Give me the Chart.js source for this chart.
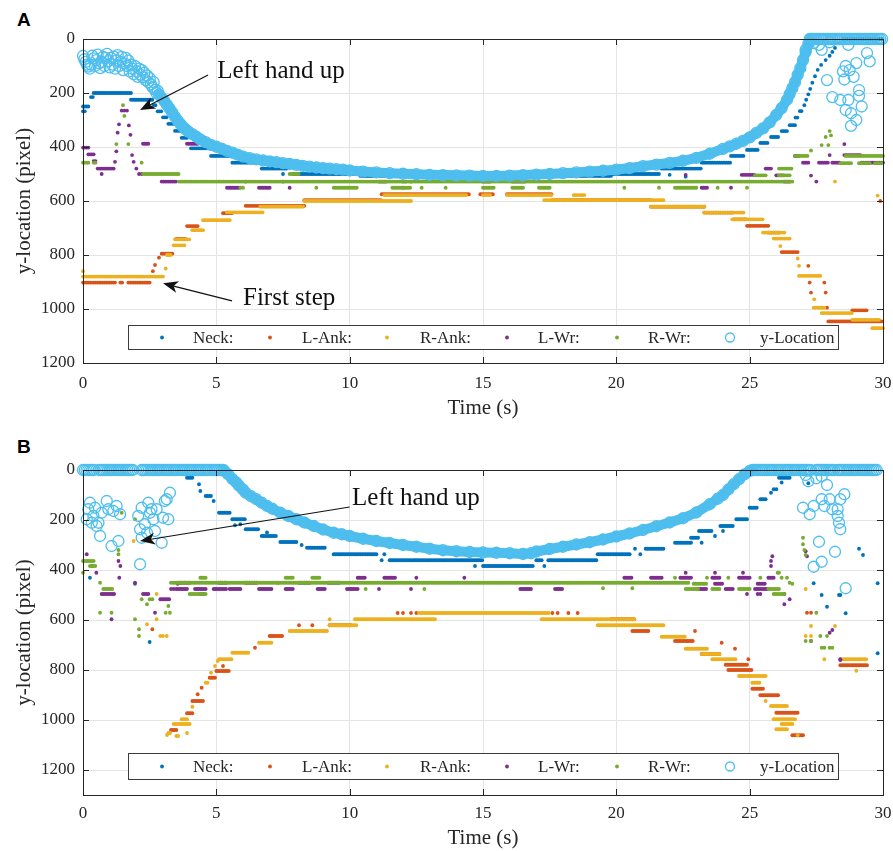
<!DOCTYPE html>
<html lang="en">
<head>
<meta charset="UTF-8">
<title>y-location vs time</title>
<script src="https://cdn.jsdelivr.net/npm/chart.js@4/dist/chart.umd.min.js"></script>
<style>
*{margin:0;padding:0;box-sizing:border-box}
body{width:893px;height:851px;background:#fff;position:relative;overflow:hidden}
.pn{position:absolute;left:0;width:910px}
.tag{position:absolute;left:17px;font:bold 19px "Liberation Sans",Arial,sans-serif;color:#000}
</style>
</head>
<body>
<div class="tag" style="top:9px">A</div>
<div class="pn" style="top:0;height:425px"><canvas id="cA"></canvas></div>
<div class="tag" style="top:436px">B</div>
<div class="pn" style="top:425px;height:426px"><canvas id="cB"></canvas></div>
<script>
// ---- data ---------------------------------------------------------------
// runs: [t0 (s), t1 (s), y (pixel)] flat stretches of a keypoint track
// pts:  [t (s), y (pixel)] single detections
const xTicks = [0, 5, 10, 15, 20, 25, 30];
const yTicks = [0, 200, 400, 600, 800, 1000, 1200];
const seriesNames = ["Neck:", "L-Ank:", "R-Ank:", "L-Wr:", "R-Wr:", "y-Location"];

// ---------- panel A ----------
const neckA_runs = [[0,0.2,250],[0,0.1,268],[0.3,0.4,215],[0.4,1.8,200],[1.8,2.6,225],[2.65,2.75,245],[2.8,2.95,268],[3.0,3.15,290],[3.2,3.4,314],[3.45,3.65,340],[3.7,3.95,366],[4.05,4.8,405],[4.8,5.8,433],[5.6,6.6,458],[6.7,7.65,480],[7.9,10.4,500],[10.4,15.0,507],[15.0,15.4,525],[15.9,16.6,525],[15.4,19.8,507],[19.8,21.6,500],[21.7,23.2,480],[23.2,24.3,458],[24.3,24.8,433],[24.9,25.35,411],[25.4,25.7,385],[25.8,26.1,363],[26.2,26.4,341],[26.5,26.7,319],[26.72,26.85,291],[26.88,27.0,267],[28.5,30,0]];
const neckA_pts = [[7.5,500],[27.05,245],[27.12,225],[27.2,205],[27.27,185],[27.35,162],[27.45,138],[27.55,114],[27.68,96],[27.85,78],[28.0,62],[28.1,48],[28.2,33],[28.35,16],[12.1,528],[12.3,528],[22.0,503],[22.6,510]];
const lAnkA_runs = [[0,1.2,902],[1.4,1.5,902],[1.7,2.5,902],[2.95,3.4,795],[3.5,3.85,740],[3.9,4.3,693],[5.25,5.6,645],[6.1,8.3,618],[8.3,11.2,597],[11.2,14.5,575],[14.9,15.4,575],[15.9,17.6,575],[17.6,21.3,597],[21.3,23.3,621],[23.3,24.4,643],[24.4,24.9,668],[24.9,25.7,692],[25.7,26.1,717],[26.2,26.85,789],[27.95,30,1046],[28.85,29.4,1005]];
const lAnkA_pts = [[2.62,860],[2.7,837],[2.85,810],[27.2,840],[27.25,902],[27.3,939],[27.8,902],[27.85,939],[27.9,995],[29.9,600],[18.7,597]];
const rAnkA_runs = [[0,3.05,880],[3.15,3.3,800],[3.4,3.8,764],[3.45,4.0,742],[4.1,4.5,708],[4.5,5.5,671],[5.4,6.75,642],[6.65,8.3,621],[8.3,12.3,600],[11.3,14.4,578],[15.0,15.3,578],[15.9,17.6,578],[18.4,18.8,578],[17.3,21.8,597],[21.3,23.3,621],[23.3,24.8,643],[24.35,25.5,668],[25.5,26.3,717],[25.9,26.5,739],[26.85,27.7,877],[27.4,27.8,995],[27.7,28.85,1015],[28.85,29.85,1040],[29.6,30,1071]];
const rAnkA_pts = [[0,860],[3.1,850],[3.2,800],[26.15,767],[26.8,813],[26.85,840],[27.42,964],[29.8,580],[28.2,528]];
const lWrA_runs = [[0,0.25,402],[0.2,0.4,427],[0.4,0.5,452],[0.55,1.2,480],[2.25,2.5,388],[2.95,3.5,528],[3.9,4.3,388],[5.4,5.9,551],[6.6,7.0,551],[11.1,11.4,528],[15.0,15.3,528],[16.1,16.6,528],[23.2,23.4,551],[24.7,25.2,503],[25.6,25.8,480],[26.0,26.3,505],[26.3,26.5,528],[26.7,26.85,433],[27.0,27.2,458],[27.6,27.95,458],[28.1,28.4,458],[28.55,29.2,430],[29.2,30,458]];
const lWrA_pts = [[0.7,500],[1.2,455],[1.25,416],[1.3,347],[1.35,316],[1.45,265],[1.55,265],[1.65,265],[1.72,320],[1.78,355],[1.84,430],[1.9,455],[2.0,480],[2.1,500],[2.2,500],[6.1,528],[7.5,528],[7.75,551],[12.0,528],[12.0,551],[22.6,503],[24.3,551],[27.3,506],[27.5,528],[28.0,430],[28.55,389]];
const rWrA_runs = [[0,0.25,458],[0.4,0.5,458],[2.25,3.6,500],[3.6,26.6,528],[7.75,8.1,500],[9.4,10.3,551],[11.6,12.3,551],[15.0,15.4,551],[16.1,16.5,551],[17.1,17.5,551],[22.2,23.0,551],[25.2,25.6,505],[26.1,26.5,505],[26.1,26.6,480],[26.7,27.2,433],[28.6,30,433],[28.4,28.8,460],[29.1,29.5,460],[29.7,30,460]];
const rWrA_pts = [[1.25,389],[1.5,245],[1.55,285],[1.7,389],[2.2,458],[5.9,551],[6.0,551],[8.75,551],[12.7,551],[13.6,551],[20.3,551],[21.6,551],[23.8,551],[24.9,551],[27.3,413],[27.7,393],[27.85,363],[28.0,341],[28.05,357],[27.95,393]];
const yLocA_curve = [[2.85,205],[2.95,218],[3.05,230],[3.15,244],[3.25,258],[3.35,273],[3.45,288],[3.55,302],[3.65,314],[3.75,326],[3.85,335],[3.95,343],[4.1,352],[4.25,362],[4.4,372],[4.6,382],[4.8,392],[5.0,399],[5.2,406],[5.4,414],[5.6,421],[5.8,428],[6.0,436],[6.25,441],[6.5,446],[6.75,450],[7.0,453],[7.25,456],[7.5,460],[7.75,463],[8.0,466],[8.25,470],[8.5,473],[8.75,476],[9.0,478],[9.25,480],[9.5,482],[9.75,484],[10.0,487],[10.5,491],[11.0,494],[11.5,497],[12.0,499],[12.5,501],[13.0,503],[13.5,504],[14.0,505],[14.5,506],[15.0,507],[15.5,507],[16.0,506],[16.5,504],[17.0,502],[17.5,500],[18.0,497],[18.5,494],[19.0,491],[19.5,488],[20.0,484],[20.5,478],[21.0,471],[21.5,465],[22.0,459],[22.5,451],[23.0,440],[23.5,425],[24.0,407],[24.25,398],[24.5,388],[24.75,377],[25.0,364],[25.25,348],[25.5,331],[25.75,309],[26.0,281],[26.2,256],[26.4,225],[26.5,204],[26.6,182],[26.7,160],[26.8,133],[26.9,108],[27.0,78],[27.1,48],[27.2,18],[27.25,0]];
const yLocA_runs = [[27.3,30,0]];
const yLocA_pts = [[0,63],[0.05,75],[0.1,85],[0.15,95],[0.2,102],[0.25,110],[0.3,95],[0.35,62],[0.4,72],[0.45,100],[0.5,78],[0.55,58],[0.6,90],[0.65,108],[0.7,85],[0.75,66],[0.8,100],[0.85,70],[0.9,55],[0.95,82],[1.0,105],[1.05,70],[1.1,95],[1.15,65],[1.2,110],[1.25,80],[1.3,60],[1.35,100],[1.4,85],[1.45,66],[1.5,115],[1.55,90],[1.6,70],[1.65,100],[1.7,80],[1.75,120],[1.8,95],[1.85,110],[1.9,130],[1.95,100],[2.0,120],[2.05,140],[2.1,110],[2.15,132],[2.2,115],[2.25,142],[2.3,125],[2.35,152],[2.4,135],[2.45,160],[2.5,145],[2.55,168],[2.6,178],[2.65,160],[2.7,188],[2.75,200],[2.8,192],
  [27.4,15],[27.6,22],[28.0,12],[27.1,40],[27.7,40],[27.9,152],[28.1,215],[28.4,226],[28.5,120],[28.6,100],[28.6,263],[28.7,22],[28.7,226],[28.8,275],[28.8,322],[28.9,140],[29.0,300],[29.0,89],[29.1,211],[29.1,189],[29.2,250],[29.4,52],[29.5,83],[28.55,150],[28.75,115]];

// ---------- panel B ----------
const neckB_runs = [[3.9,4.1,31],[4.6,4.8,104],[5.1,5.5,171],[5.6,6.1,197],[6.1,6.6,237],[6.7,7.25,264],[7.4,8.0,288],[8.4,9.1,311],[9.4,11.0,337],[11.5,15.0,361],[15.0,16.9,384],[17.0,17.2,361],[17.45,19.3,361],[19.3,20.5,337],[21.1,21.8,315],[22.2,22.8,291],[22.8,23.1,271],[23.1,23.6,244],[23.9,24.4,224],[24.5,24.9,197],[25.0,25.3,151],[25.4,25.6,117],[26.1,26.5,31]];
const neckB_pts = [[4.35,57],[4.4,84],[4.9,124],[5.7,221],[5.9,217],[6.9,250],[8.2,300],[11.2,361],[11.3,337],[14.7,384],[17.3,384],[20.7,315],[20.9,337],[23.2,291],[23.7,264],[24.0,244],[25.8,91],[25.9,77],[26.0,77],[26.2,50],[0.26,431],[1.95,455],[2.5,688],[27.2,53],[27.4,453],[27.7,500],[27.9,547],[28.35,500],[28.4,500],[28.6,573],[29.1,315],[29.25,340],[29.8,453],[29.8,733]];
const lAnkB_runs = [[3.3,3.5,1040],[3.9,4.1,973],[4.1,4.5,924],[4.75,5.0,831],[5.0,5.5,804],[7.0,7.5,664],[9.25,10.1,621],[19.8,20.7,597],[20.6,21.2,644],[22.2,22.9,684],[23.2,23.9,736],[24.1,24.9,779],[24.2,25.1,800],[25.1,25.5,875],[25.4,26.1,901],[26.0,26.8,971],[26.6,27.0,1061],[28.4,29.4,781]];
const lAnkB_pts = [[4.3,897],[4.45,871],[5.25,784],[6.45,711],[8.1,621],[8.6,621],[11.8,572],[12.0,572],[12.3,572],[12.5,572],[17.6,572],[17.8,572],[18.2,572],[18.55,572],[22.95,644],[23.95,691],[24.45,715],[24.95,757],[27.15,571],[27.3,571],[2.6,637]];
const rAnkB_runs = [[3.2,3.3,1052],[3.5,3.6,1064],[3.4,4.0,1016],[3.7,3.9,997],[4.6,4.7,851],[5.1,5.6,757],[5.6,6.2,731],[6.6,7.1,691],[7.75,9.2,644],[9.25,10.3,621],[10.2,13.2,597],[12.6,17.5,572],[17.2,20.7,597],[19.3,21.8,621],[21.7,22.6,667],[22.6,23.4,715],[23.2,23.9,736],[23.6,24.5,757],[24.6,25.6,824],[25.1,25.4,851],[25.8,26.4,944],[25.9,26.7,997],[26.2,26.6,1016],[26.0,26.4,1037],[28.5,29.4,757]];
const rAnkB_pts = [[3.15,1060],[3.9,1052],[4.1,947],[4.8,811],[4.95,784],[5.05,764],[9.25,597],[25.6,924],[26.8,1061],[2.4,617],[2.76,597],[2.76,496],[2.9,664],[3.0,664],[3.14,664],[1.9,284],[27.1,476],[27.3,624],[27.1,664],[27.3,664],[28.2,624],[28.4,757],[29.0,803],[27.8,757]];
const lWrB_runs = [[3.5,3.9,476],[4.2,4.6,476],[4.9,5.4,476],[5.5,5.9,476],[6.6,7.1,476],[7.6,7.9,476],[8.8,9.1,476],[3.6,4.0,451],[5.1,5.4,451],[6.1,6.5,451],[8.1,8.5,451],[9.2,9.6,451],[9.9,10.3,476],[10.3,10.6,431],[11.3,11.7,431],[16.4,16.8,476],[17.7,18.0,476],[20.3,20.6,431],[21.3,21.7,431],[22.4,22.8,431],[23.6,23.9,431],[24.6,25.0,431],[25.7,25.9,431],[23.1,23.4,476],[24.1,24.4,476],[25.2,25.7,476],[23.7,24.0,455],[25.3,25.6,455],[2.25,2.5,496],[2.9,3.26,517],[0.7,1.2,496]];
const lWrB_pts = [[0.14,337],[0.35,384],[0.5,411],[1.07,597],[1.33,364],[1.4,384],[1.36,431],[1.95,451],[2.7,571],[3.3,476],[3.4,476],[3.55,455],[4.4,496],[4.5,496],[7.3,451],[11.1,476],[12.3,476],[12.5,431],[14.3,431],[22.6,411],[23.7,411],[24.75,411],[24.9,496],[25.3,496],[25.4,496],[26.3,496],[25.8,384],[25.8,364],[25.85,345],[26.5,517],[26.3,537],[27.1,325],[27.15,345],[27.3,684],[28.0,651],[28.1,640],[28.4,757],[28.4,760]];
const rWrB_runs = [[0,0.4,364],[0.26,0.5,384],[0.76,1.14,476],[3.3,22.7,451],[22.9,23.4,455],[22.6,23.1,476],[23.6,23.9,476],[24.6,25.0,476],[25.7,26.1,476],[25.9,26.3,496],[4.4,4.6,431],[7.6,7.9,431],[8.6,8.9,431],[4.0,4.6,496]];
const rWrB_pts = [[0,411],[0.64,451],[0.64,571],[1.07,571],[1.33,320],[1.33,337],[1.45,171],[1.95,197],[1.95,597],[2.2,517],[2.4,537],[2.5,517],[2.6,517],[2.1,637],[2.1,664],[3.2,544],[3.1,571],[3.26,571],[10.6,476],[12.8,476],[19.5,473],[20.6,473],[22.2,431],[23.4,431],[24.2,431],[25.4,431],[26.2,431],[26.05,411],[26.1,411],[26.4,431],[26.5,451],[26.6,455],[27.0,271],[27.0,297],[27.05,320],[27.1,340],[27.5,571],[27.1,684],[27.3,684],[27.7,711],[27.8,711],[28.0,711],[28.1,711],[27.65,664],[27.9,664]];
const yLocB_curve = [[5.3,4],[5.45,18],[5.6,36],[5.75,50],[5.85,63],[6.0,78],[6.1,91],[6.3,105],[6.5,117],[6.7,131],[6.9,144],[7.1,155],[7.4,171],[7.7,184],[8.0,197],[8.3,210],[8.65,224],[9.0,238],[9.4,251],[9.7,257],[10.0,264],[10.5,275],[11.0,284],[11.5,292],[12.0,300],[12.5,307],[13.0,315],[13.5,321],[14.0,325],[14.5,328],[15.0,330],[15.5,331],[16.0,333],[16.5,336],[16.8,333],[17.0,326],[17.5,316],[18.0,307],[18.5,298],[19.0,289],[19.5,278],[20.0,266],[20.5,254],[21.0,240],[21.5,225],[22.0,210],[22.5,193],[23.0,170],[23.5,137],[23.8,115],[24.0,100],[24.2,78],[24.4,57],[24.6,37],[24.8,18],[25.0,4],[25.1,0]];
const yLocB_runs = [[0,0.4,0],[0.6,1.9,0],[2.2,5.3,0],[25.15,27.3,0],[27.5,28.2,0],[28.3,29.8,0]];
const yLocB_pts = [[0.26,131],[0.39,184],[0.58,211],[0.7,171],[0.89,124],[0.95,157],[1.26,144],[0.64,264],[1.07,304],[1.33,284],[0.14,197],[0.2,157],[0.45,151],[0.51,224],[0.33,211],[1.14,164],[1.39,177],[2.07,184],[2.2,151],[2.32,217],[2.45,131],[2.51,171],[2.64,197],[2.14,237],[2.2,271],[2.57,157],[2.76,157],[3.14,117],[3.26,91],[3.07,124],[3.0,191],[3.2,197],[2.14,377],[2.95,291],[2.7,244],[2.4,251],
  [27.0,151],[27.25,177],[27.4,144],[27.7,117],[27.8,144],[28.0,117],[28.1,157],[28.3,157],[28.3,184],[28.35,211],[28.4,237],[28.4,117],[28.55,97],[27.5,33],[27.7,25],[27.2,45],[27.6,287],[28.2,327],[27.7,367],[27.4,387],[28.6,473],[27.9,60],[27.1,20]];

// ---- look ----------------------------------------------------------------
const INK = "#262626", GRID = "#e4e4e4";
const SERIF = '"Liberation Serif","Times New Roman",serif';
const COLORS = ["#0072BD", "#D95319", "#EDB120", "#7E2F8E", "#77AC30", "#4DBEEE"];
const FRAME = 1 / 15; // video frame period used to sample flat stretches
const LEGEND_X = [[34,65],[142,174],[259,292],[379,410],[489,520],[602,632]];

function track(runs, pts) {
  var out = [];
  (runs || []).forEach(function (r) {
    for (var t = r[0]; t <= r[1] + 1e-9; t += FRAME) out.push({x: +t.toFixed(3), y: r[2]});
  });
  (pts || []).forEach(function (p) { out.push({x: p[0], y: p[1]}); });
  return out;
}

function dots(data, i) {
  return {data: data, showLine: false, pointRadius: 1.9, pointHoverRadius: 0, pointBorderWidth: 0,
    backgroundColor: COLORS[i], borderColor: COLORS[i], order: 10 - i, clip: false};
}
function rings(data, line) {
  return {data: data, showLine: line, borderWidth: line ? 10 : 0, borderColor: COLORS[5],
    borderCapStyle: "round", borderJoinStyle: "round", tension: 0,
    pointRadius: 5.5, pointHoverRadius: 0, pointBorderWidth: 1.3, pointBorderColor: COLORS[5],
    pointBackgroundColor: "rgba(0,0,0,0)", order: line ? 5 : 4, clip: false};
}

function arrow(ctx, x0, y0, x1, y1) {
  var ang = Math.atan2(y1 - y0, x1 - x0), L = 15, W = 6, N = 4;
  ctx.strokeStyle = "#111"; ctx.lineWidth = 1.2;
  ctx.beginPath(); ctx.moveTo(x0, y0);
  ctx.lineTo(x1 - Math.cos(ang) * (L - N), y1 - Math.sin(ang) * (L - N)); ctx.stroke();
  ctx.save(); ctx.translate(x1, y1); ctx.rotate(ang);
  ctx.beginPath(); ctx.moveTo(0, 0); ctx.lineTo(-L, -W); ctx.lineTo(-L + N, 0); ctx.lineTo(-L, W); ctx.closePath();
  ctx.fillStyle = "#111"; ctx.fill(); ctx.restore();
}

// box with inward ticks, boxed legend and the text callouts (MATLAB look)
const decor = {
  id: "decor",
  afterDatasetsDraw: function (chart, _a, o) {
    var ctx = chart.ctx, a = chart.chartArea, x = chart.scales.x, y = chart.scales.y;
    ctx.save();
    ctx.strokeStyle = INK; ctx.lineWidth = 1;
    ctx.beginPath();
    x.ticks.forEach(function (t) {
      var p = Math.round(x.getPixelForValue(t.value)) + 0.5;
      ctx.moveTo(p, a.bottom); ctx.lineTo(p, a.bottom - 6); ctx.moveTo(p, a.top); ctx.lineTo(p, a.top + 6);
    });
    y.ticks.forEach(function (t) {
      var p = Math.round(y.getPixelForValue(t.value)) + 0.5;
      ctx.moveTo(a.left, p); ctx.lineTo(a.left + 6, p); ctx.moveTo(a.right, p); ctx.lineTo(a.right - 6, p);
    });
    ctx.stroke();
    ctx.strokeRect(Math.round(a.left) + 0.5, Math.round(a.top) + 0.5, Math.round(a.right - a.left), Math.round(a.bottom - a.top));

    var lx = Math.round(a.left + 45), lw = Math.round(a.right - a.left - 90), ly = Math.round(a.bottom - o.legendUp), lh = o.legendH;
    ctx.fillStyle = "#fff"; ctx.fillRect(lx, ly, lw, lh);
    ctx.strokeStyle = "#3c3c3c"; ctx.strokeRect(lx + 0.5, ly + 0.5, lw, lh);
    ctx.font = "17px " + SERIF; ctx.textBaseline = "middle"; ctx.textAlign = "left";
    seriesNames.forEach(function (name, i) {
      var cy = ly + lh / 2 + 0.5;
      ctx.beginPath();
      if (i === 5) { ctx.strokeStyle = COLORS[5]; ctx.lineWidth = 1.3; ctx.arc(lx + LEGEND_X[i][0], cy, 4.5, 0, 2 * Math.PI); ctx.stroke(); }
      else { ctx.fillStyle = COLORS[i]; ctx.arc(lx + LEGEND_X[i][0], cy, 1.9, 0, 2 * Math.PI); ctx.fill(); }
      ctx.fillStyle = INK; ctx.fillText(name, lx + LEGEND_X[i][1], cy + 1);
    });

    (o.notes || []).forEach(function (n) {
      ctx.font = "25px " + SERIF; ctx.fillStyle = "#111"; ctx.textBaseline = "alphabetic";
      ctx.fillText(n.text, x.getPixelForValue(n.at[0]), y.getPixelForValue(n.at[1]));
      arrow(ctx, x.getPixelForValue(n.from[0]), y.getPixelForValue(n.from[1]),
        x.getPixelForValue(n.to[0]), y.getPixelForValue(n.to[1]));
    });
    ctx.restore();
  }
};

function plain(v) { return String(v); }

function makeChart(id, sets, ymax, lay) {
  return new Chart(document.getElementById(id), {
    type: "scatter",
    data: {datasets: sets},
    plugins: [decor],
    options: {
      responsive: true, maintainAspectRatio: false, animation: false, devicePixelRatio: 1, events: [],
      // canvas is 910 wide (clipped at 893); right padding puts the plot edge at x=883
      layout: {padding: {top: lay.top, right: 27, left: 0, bottom: 0}},
      plugins: {legend: {display: false}, tooltip: {enabled: false}, decor: lay.decor},
      scales: {
        x: {type: "linear", min: 0, max: 30,
          afterBuildTicks: function (s) { s.ticks = xTicks.map(function (v) { return {value: v}; }); },
          ticks: {padding: lay.xPad, color: INK, font: {family: SERIF, size: 17}, callback: plain},
          grid: {color: GRID, drawTicks: false}, border: {display: false},
          title: {display: true, text: "Time (s)", color: INK, font: {family: SERIF, size: 21}, padding: {top: 0, bottom: lay.xTitle}},
          afterFit: function (s) { s.height = lay.xH; }},
        y: {type: "linear", reverse: true, min: 0, max: ymax,
          afterBuildTicks: function (s) { s.ticks = yTicks.map(function (v) { return {value: v}; }); },
          ticks: {padding: 8, color: INK, font: {family: SERIF, size: 17}, callback: plain},
          grid: {color: GRID, drawTicks: false}, border: {display: false},
          title: {display: true, text: "y-location (pixel)", color: INK, font: {family: SERIF, size: 21}, padding: {top: 12, bottom: 0}},
          afterFit: function (s) { s.width = 83; }}
      }
    }
  });
}

makeChart("cA", [
  dots(track(neckA_runs, neckA_pts), 0),
  dots(track(lAnkA_runs, lAnkA_pts), 1),
  dots(track(rAnkA_runs, rAnkA_pts), 2),
  dots(track(lWrA_runs, lWrA_pts), 3),
  dots(track(rWrA_runs, rWrA_pts), 4),
  rings(track(null, yLocA_curve), true),
  rings(track(yLocA_runs, yLocA_pts), false)
], 1200, {top: 39, xPad: 10, xTitle: 4, xH: 62, decor: {legendUp: 38, legendH: 24, notes: [
  {text: "Left hand up", at: [5.03, 144], from: [4.69, 133], to: [2.14, 263]},
  {text: "First step", at: [6.0, 985], from: [5.59, 970], to: [3.0, 905]}
]}});

makeChart("cB", [
  dots(track(neckB_runs, neckB_pts), 0),
  dots(track(lAnkB_runs, lAnkB_pts), 1),
  dots(track(rAnkB_runs, rAnkB_pts), 2),
  dots(track(lWrB_runs, lWrB_pts), 3),
  dots(track(rWrB_runs, rWrB_pts), 4),
  rings(track(null, yLocB_curve), true),
  rings(track(yLocB_runs, yLocB_pts), false)
], 1300, {top: 45, xPad: 8, xTitle: 0, xH: 56, decor: {legendUp: 42, legendH: 26, notes: [
  {text: "Left hand up", at: [10.09, 138], from: [10.0, 148], to: [2.14, 284]}
]}});
</script>
</body>
</html>
